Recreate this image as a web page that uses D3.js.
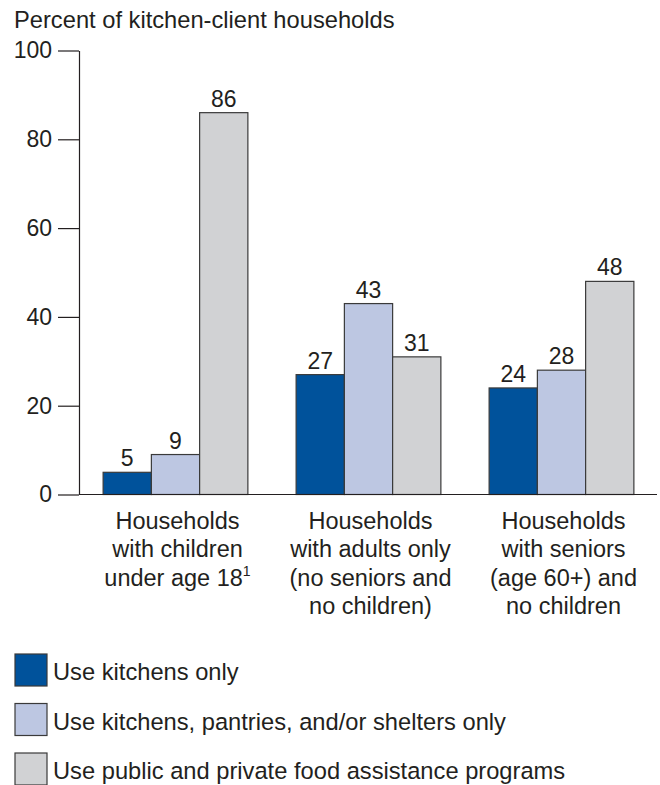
<!DOCTYPE html>
<html>
<head>
<meta charset="utf-8">
<script src="https://cdn.jsdelivr.net/npm/d3@7"></script>
<style>
  html, body { margin: 0; padding: 0; background: #fff; }
  svg { display: block; }
  text { font-family: "Liberation Sans", Arial, Helvetica, sans-serif; fill: #231f20; }
</style>
</head>
<body>
<svg id="chart" width="660" height="785"></svg>
<script>
// ---- data ----
const categories = ["children", "adults", "seniors"];
const categoryLines = [
  ["Households", "with children", "under age 18"],
  ["Households", "with adults only", "(no seniors and", "no children)"],
  ["Households", "with seniors", "(age 60+) and", "no children"]
];
const categoryFootnotes = ["1", "", ""];
const seriesNames = [
  "Use kitchens only",
  "Use kitchens, pantries, and/or shelters only",
  "Use public and private food assistance programs"
];
const kitchensOnly = [5, 27, 24];
const kitchensPantriesShelters = [9, 43, 28];
const publicPrivatePrograms = [86, 31, 48];
const yTicks = [0, 20, 40, 60, 80, 100];
const yTitle = "Percent of kitchen-client households";
const colors = ["#00529b", "#bdc7e2", "#d1d2d4"];

const seriesValues = [kitchensOnly, kitchensPantriesShelters, publicPrivatePrograms];

// ---- layout ----
const svg = d3.select("#chart");
const axisX = 79;
const x0 = d3.scaleBand().domain(categories).range([axisX, 658]).paddingInner(0.25).paddingOuter(0.125);
const x1 = d3.scaleBand().domain(seriesNames).range([0, x0.bandwidth()]).padding(0);
const y = d3.scaleLinear().domain([0, 100]).range([494.5, 50.5]);

// title
svg.append("text").attr("x", 14).attr("y", 28).attr("font-size", 23.7).text(yTitle);

// y axis
const yAxis = svg.append("g").attr("transform", `translate(${axisX},0)`)
  .call(d3.axisLeft(y).tickValues(yTicks).tickSize(21).tickSizeOuter(0).tickPadding(6));
yAxis.select(".domain").attr("stroke", "#231f20").attr("stroke-width", 1.2);
yAxis.selectAll(".tick line").attr("stroke", "#231f20").attr("stroke-width", 1.2);
yAxis.selectAll(".tick text").attr("font-size", 23).attr("font-family", "Liberation Sans, Arial, sans-serif").attr("fill", "#231f20");

// bars
const groups = svg.append("g").selectAll("g").data(categories).join("g")
  .attr("transform", d => `translate(${x0(d)},0)`);

groups.each(function(cat, ci) {
  const g = d3.select(this);
  const rows = seriesNames.map((s, si) => ({ s, si, v: seriesValues[si][ci] }));
  g.selectAll("rect").data(rows).join("rect")
    .attr("x", d => x1(d.s))
    .attr("y", d => y(d.v))
    .attr("width", x1.bandwidth())
    .attr("height", d => y(0) - y(d.v))
    .attr("fill", d => colors[d.si])
    .attr("stroke", "#3a3a3a")
    .attr("stroke-width", 1.2);
  g.selectAll("text.val").data(rows).join("text")
    .attr("class", "val")
    .attr("x", d => x1(d.s) + x1.bandwidth() / 2)
    .attr("y", d => y(d.v) - 6)
    .attr("text-anchor", "middle")
    .attr("font-size", 23)
    .text(d => d.v);

  const lbl = g.append("text")
    .attr("text-anchor", "middle")
    .attr("font-size", 23.5);
  categoryLines[ci].forEach((line, li) => {
    const t = lbl.append("tspan")
      .attr("x", x0.bandwidth() / 2 + 2)
      .attr("y", 529 + li * 28.3)
      .text(line);
    if (li === categoryLines[ci].length - 1 && categoryFootnotes[ci]) {
      t.append("tspan").attr("font-size", 14).attr("dy", -10).text(categoryFootnotes[ci]);
    }
  });
});

// x baseline
svg.append("line")
  .attr("x1", axisX).attr("x2", 657)
  .attr("y1", y(0)).attr("y2", y(0))
  .attr("stroke", "#231f20").attr("stroke-width", 1.2);

// legend
const legend = svg.append("g").selectAll("g").data(seriesNames).join("g")
  .attr("transform", (d, i) => `translate(15,${654 + i * 49.5})`);
legend.append("rect")
  .attr("width", 32).attr("height", 32)
  .attr("fill", (d, i) => colors[i])
  .attr("stroke", "#3a3a3a").attr("stroke-width", 1.2);
legend.append("text")
  .attr("x", 38).attr("y", 26)
  .attr("font-size", 23.7)
  .text(d => d);
</script>
</body>
</html>
